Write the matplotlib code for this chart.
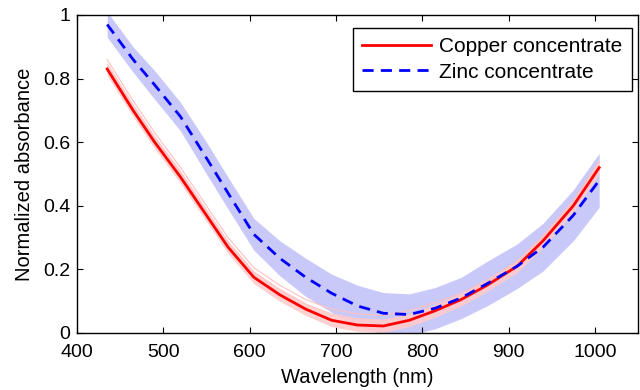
import numpy as np
import matplotlib
matplotlib.use('Agg')
import matplotlib.pyplot as plt

plt.rcParams['font.family'] = ['Liberation Sans', 'DejaVu Sans']

# Dane: długości fal i znormalizowana absorbancja
wavelength = [435, 465, 490, 520, 550, 575, 605, 635, 665, 695,
              725, 755, 785, 815, 845, 875, 910, 940, 975, 1005]
copper_mean = [0.83, 0.70, 0.60, 0.49, 0.37, 0.27, 0.175, 0.12, 0.075, 0.04,
               0.025, 0.022, 0.04, 0.07, 0.105, 0.15, 0.21, 0.29, 0.40, 0.52]
copper_std = [0.02, 0.02, 0.02, 0.02, 0.02, 0.02, 0.02, 0.02, 0.02, 0.02,
              0.02, 0.02, 0.02, 0.02, 0.02, 0.02, 0.02, 0.02, 0.02, 0.02]
copper_s1 = [0.86, 0.73, 0.63, 0.52, 0.40, 0.30, 0.205, 0.15, 0.105, 0.075,
             0.06, 0.055, 0.07, 0.095, 0.125, 0.165, 0.225, 0.305, 0.415, 0.54]
copper_s2 = [0.845, 0.715, 0.615, 0.505, 0.385, 0.285, 0.19, 0.135, 0.09, 0.06,
             0.045, 0.04, 0.055, 0.085, 0.115, 0.16, 0.22, 0.30, 0.41, 0.535]
zinc_mean = [0.97, 0.86, 0.78, 0.68, 0.55, 0.44, 0.31, 0.235, 0.175, 0.125,
             0.085, 0.062, 0.058, 0.078, 0.11, 0.155, 0.21, 0.27, 0.37, 0.48]
zinc_std = [0.04, 0.04, 0.045, 0.045, 0.05, 0.05, 0.05, 0.055, 0.06, 0.06,
            0.065, 0.065, 0.065, 0.065, 0.065, 0.07, 0.07, 0.075, 0.08, 0.085]

wl = np.array(wavelength)
cm = np.array(copper_mean)
cs = np.array(copper_std)
zm = np.array(zinc_mean)
zs = np.array(zinc_std)

fig = plt.figure(figsize=(6.4, 3.9), dpi=100)
ax = fig.add_axes([0.1203, 0.1462, 0.8766, 0.8154])

# Pasma odchylenia
ax.fill_between(wl, zm - zs, zm + zs, color='#c9c9f9', lw=0, zorder=1)
ax.fill_between(wl, cm - cs, cm + cs, color='#ffcccc', lw=0, alpha=0.9, zorder=2)
ax.plot(wl, copper_s1, color='#ffc0c0', lw=0.8, zorder=2)
ax.plot(wl, copper_s2, color='#ffc8c8', lw=0.8, zorder=2)

ax.plot(wl, cm, color='red', lw=2, label='Copper concentrate', zorder=3)
ax.plot(wl, zm, color='blue', lw=2, dashes=(4, 2.6), label='Zinc concentrate', zorder=4)

ax.set_xlim(400, 1050)
ax.set_ylim(0, 1)
ax.set_xticks([400, 500, 600, 700, 800, 900, 1000])
ax.set_yticks([0, 0.2, 0.4, 0.6, 0.8, 1])
ax.set_yticklabels(['0', '0.2', '0.4', '0.6', '0.8', '1'])
ax.tick_params(direction='in', top=True, right=True, labelsize=14, length=4, width=0.8)
ax.tick_params(axis='x', pad=8)
ax.tick_params(axis='y', pad=5)
for s in ax.spines.values():
    s.set_linewidth(1)
ax.set_xlabel('Wavelength (nm)', fontsize=14.5, labelpad=5)
ax.set_ylabel('Normalized absorbance', fontsize=14.5, labelpad=6)

leg = ax.legend(loc='upper right', bbox_to_anchor=(0.989, 0.959), fontsize=15,
                handlelength=3.3, fancybox=False, edgecolor='black', framealpha=1,
                borderpad=0.45, labelspacing=0.3, handletextpad=0.4, borderaxespad=0)
leg.get_frame().set_linewidth(1)

fig.savefig('out.png', dpi=100)
